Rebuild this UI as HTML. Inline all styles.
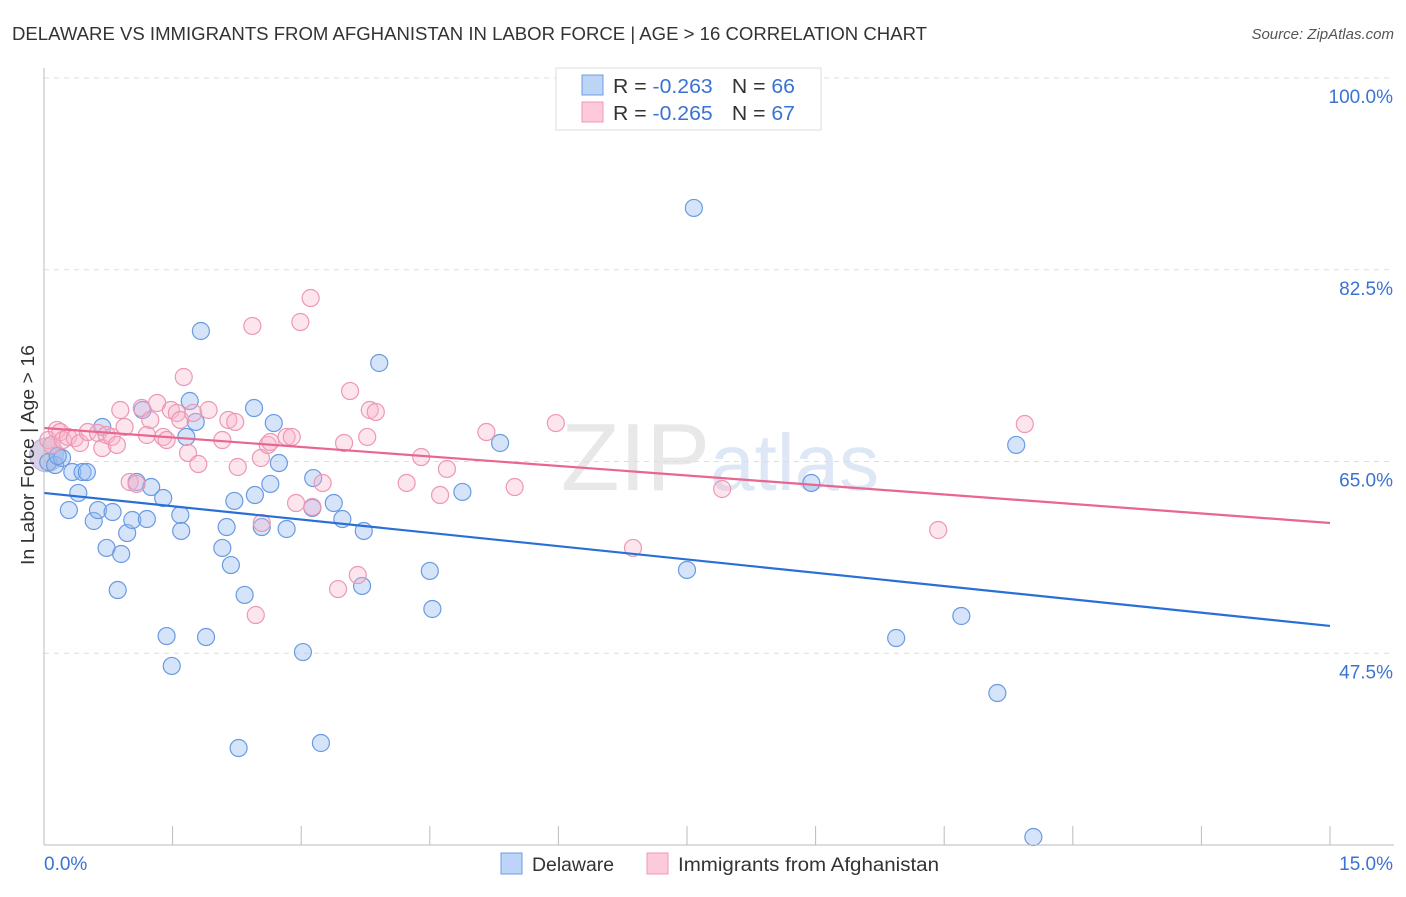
<!DOCTYPE html>
<html><head><meta charset="utf-8"><style>
body{margin:0;background:#fff;font-family:"Liberation Sans",sans-serif;}
svg text{font-family:"Liberation Sans",sans-serif;}
</style></head><body>
<svg id="chart" width="1406" height="892" xmlns="http://www.w3.org/2000/svg">
<text x="12" y="40" font-size="18" fill="#333" textLength="915" lengthAdjust="spacingAndGlyphs">DELAWARE VS IMMIGRANTS FROM AFGHANISTAN IN LABOR FORCE | AGE &gt; 16 CORRELATION CHART</text>
<text x="1394" y="39" font-size="15" fill="#555" font-style="italic" text-anchor="end">Source: ZipAtlas.com</text>
<text x="720" y="490" font-size="96" fill="#e8e8e8" text-anchor="middle" font-family="Liberation Serif">ZIP<tspan fill="#dde7f5" font-family="Liberation Sans" font-size="80">atlas</tspan></text>
<g id="grid"></g>
<g id="ticks"></g>
<g id="pts"></g>
<g id="trends"></g>
<line x1="44" y1="68" x2="44" y2="845" stroke="#bbb" stroke-width="1"/>
<line x1="44" y1="845" x2="1394" y2="845" stroke="#bbb" stroke-width="1"/>
<text transform="translate(34,455) rotate(-90)" font-size="18" fill="#333" text-anchor="middle" textLength="220" lengthAdjust="spacingAndGlyphs">In Labor Force | Age &gt; 16</text>
<text x="44" y="870" font-size="19" fill="#3b73d1">0.0%</text>
<text x="1393" y="870" font-size="19" fill="#3b73d1" text-anchor="end">15.0%</text>
<g>
<rect x="556" y="68" width="265" height="62" fill="#fff" stroke="#ddd"/>
<rect x="582" y="75" width="21" height="20" fill="#bcd4f6" stroke="#6d9de3"/>
<rect x="582" y="102" width="21" height="20" fill="#fccadb" stroke="#ee9ab6"/>
<text x="613" y="93" font-size="20" fill="#333" textLength="182" lengthAdjust="spacingAndGlyphs">R = <tspan fill="#3b73d1">-0.263</tspan><tspan dx="18">N = </tspan><tspan fill="#3b73d1">66</tspan></text>
<text x="613" y="120" font-size="20" fill="#333" textLength="182" lengthAdjust="spacingAndGlyphs">R = <tspan fill="#3b73d1">-0.265</tspan><tspan dx="18">N = </tspan><tspan fill="#3b73d1">67</tspan></text>
</g>
<g>
<rect x="501" y="853" width="21" height="21" fill="#bcd4f6" stroke="#6d9de3"/>
<text x="532" y="871" font-size="19" fill="#333" textLength="82" lengthAdjust="spacingAndGlyphs">Delaware</text>
<rect x="647" y="853" width="21" height="21" fill="#fccadb" stroke="#ee9ab6"/>
<text x="678" y="871" font-size="19" fill="#333" textLength="261" lengthAdjust="spacingAndGlyphs">Immigrants from Afghanistan</text>
</g>
</svg>
<script>
const yTicks=[47.5,65,82.5,100];
const yTickLabels=["47.5%","65.0%","82.5%","100.0%"];
const xTicks=[0,1.5,3,4.5,6,7.5,9,10.5,12,13.5,15];
const blueX=[0.05,0.13,0.21,0.29,0.40,0.33,0.45,0.50,0.58,0.63,0.68,0.73,0.80,0.90,0.86,0.97,1.03,1.08,1.15,1.20,1.25,1.39,1.43,1.49,1.59,1.60,1.66,1.70,1.77,1.83,1.89,2.08,2.13,2.18,2.22,2.27,2.34,2.45,2.46,2.54,2.64,2.68,2.74,2.83,3.02,3.13,3.14,3.23,3.38,3.48,3.73,3.71,3.91,4.50,4.53,4.88,5.32,7.50,7.58,8.95,9.94,10.70,11.12,11.34,11.54,0.16];
const blueY=[64.95,64.68,65.32,60.57,62.13,64.04,64.04,64.04,59.57,60.57,68.15,57.11,60.39,56.56,53.27,58.47,59.66,63.13,69.70,59.75,62.67,61.67,49.07,46.34,60.12,58.66,67.24,70.52,68.61,76.91,48.98,57.11,59.02,55.55,61.40,38.85,52.82,69.88,61.94,59.02,62.95,68.51,64.86,58.84,47.61,60.76,63.49,39.31,61.21,59.75,58.66,53.64,73.99,55.01,51.54,62.22,66.69,55.10,88.14,63.04,48.89,50.90,43.87,66.51,30.73,65.50];
const pinkX=[0.05,0.09,0.15,0.19,0.22,0.28,0.36,0.42,0.51,0.63,0.68,0.73,0.79,0.85,0.89,0.94,1.00,1.08,1.14,1.20,1.24,1.32,1.39,1.43,1.48,1.55,1.59,1.63,1.68,1.74,1.80,1.92,2.08,2.15,2.23,2.26,2.43,2.47,2.53,2.54,2.61,2.64,2.83,2.89,2.94,2.99,3.11,3.13,3.25,3.43,3.50,3.57,3.66,3.77,3.80,3.87,4.23,4.40,4.62,4.70,5.16,5.49,5.97,6.87,7.91,10.43,11.44];
const pinkY=[66.96,66.51,67.88,67.69,66.96,67.24,67.14,66.69,67.69,67.60,66.23,67.42,67.24,66.51,69.70,68.15,63.13,62.95,69.88,67.42,68.79,70.34,67.24,66.96,69.70,69.43,68.79,72.71,65.78,69.43,64.77,69.70,66.96,68.79,68.61,64.50,77.37,50.99,65.32,59.39,66.51,66.78,67.24,67.24,61.21,77.73,79.92,60.85,63.04,53.36,66.69,71.43,54.64,67.24,69.70,69.52,63.04,65.41,61.94,64.32,67.69,62.67,68.51,57.11,62.49,58.75,68.42];
const blueTrend=[62.13,49.99];
const pinkTrend=[68.06,59.39];
const NS="http://www.w3.org/2000/svg";
function sx(v){return 44+v/15*1286;}
function sy(v){return 845-(v-30)/70*767;}
function mk(t,a,p){const e=document.createElementNS(NS,t);for(const k in a)e.setAttribute(k,a[k]);p.appendChild(e);return e;}
const grid=document.getElementById('grid'),ticks=document.getElementById('ticks'),pts=document.getElementById('pts'),tr=document.getElementById('trends');
yTicks.forEach((v,i)=>{
 const l=mk('line',{x1:44,x2:1394,y1:sy(v),y2:sy(v),stroke:'#ddd','stroke-dasharray':'5,5'},grid);
 
 
 const t=mk('text',{x:1393,y:sy(v)+25,'font-size':19,fill:'#3b73d1','text-anchor':'end'},ticks);
 t.textContent=yTickLabels[i];
 
 
});
xTicks.forEach(v=>{
 const l=mk('line',{x1:sx(v),x2:sx(v),y1:826,y2:845,stroke:'#bbb'},grid);
 
 
});
const big=mk('circle',{cx:sx(0.03),cy:sy(65.6),r:17,fill:'rgba(170,150,200,0.45)',stroke:'rgba(150,140,200,0.6)'},pts);


blueX.forEach((x,i)=>{
 const c=mk('circle',{cx:sx(x),cy:sy(blueY[i]),r:8.5,fill:'rgba(150,188,240,0.4)',stroke:'#6a9be2','stroke-width':1.2},pts);
 
 
});
pinkX.forEach((x,i)=>{
 const c=mk('circle',{cx:sx(x),cy:sy(pinkY[i]),r:8.5,fill:'rgba(248,180,202,0.35)',stroke:'#ec98b4','stroke-width':1.2},pts);
 
 
});
const bl=mk('line',{x1:sx(0),y1:sy(blueTrend[0]),x2:sx(15),y2:sy(blueTrend[1]),stroke:'#2a6fd6','stroke-width':2.2},tr);


const pl=mk('line',{x1:sx(0),y1:sy(pinkTrend[0]),x2:sx(15),y2:sy(pinkTrend[1]),stroke:'#e8668f','stroke-width':2.2},tr);


</script>
</body></html>
